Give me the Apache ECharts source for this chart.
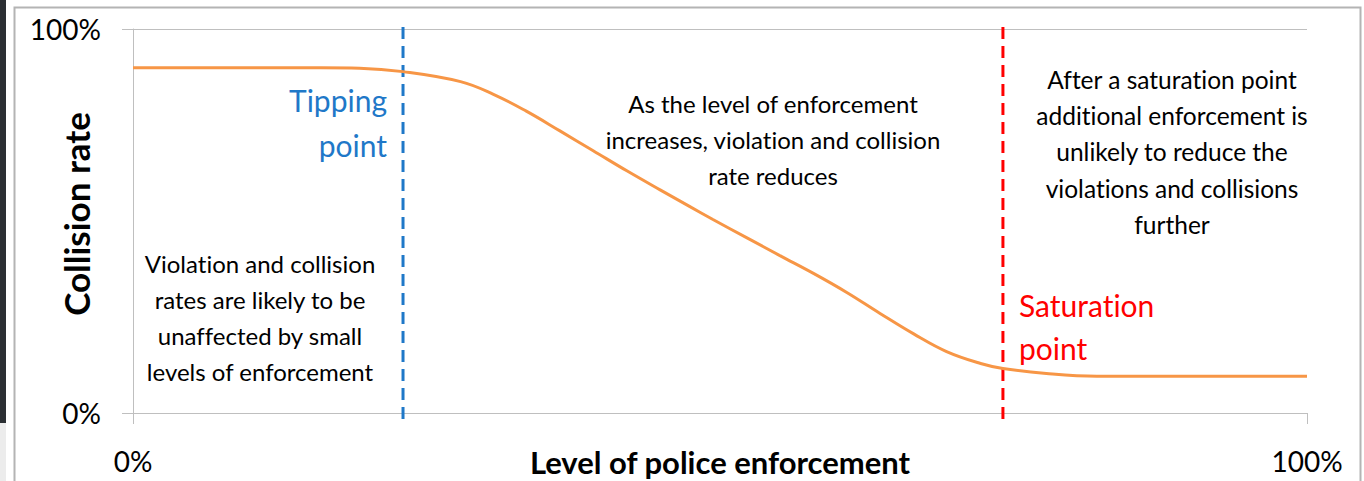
<!DOCTYPE html>
<html>
<head>
<meta charset="utf-8">
<script src="https://cdn.jsdelivr.net/npm/echarts@6/dist/echarts.min.js"></script>
<style>
html,body{margin:0;padding:0;background:#fff;}
#chart{width:1364px;height:481px;}
#chart text{font-variant-ligatures:none;font-feature-settings:"liga" 0,"clig" 0;}
</style>
</head>
<body>
<div id="chart"></div>
<script>
// Level of police enforcement (%)
var enforcement = [0, 10, 16, 19.3, 23.0, 27.9, 30.7, 33.5, 36.4, 39.2, 42.1, 44.9, 47.4, 49.4, 52.3, 55.1, 58.0, 60.8, 63.6, 66.5, 69.3, 72.2, 74.1, 77.8, 82.1, 90, 100];
// Collision rate (%)
var collisionRate = [89.9, 89.9, 89.9, 89.8, 88.9, 86.3, 83.0, 78.6, 73.4, 68.3, 63.0, 58.1, 53.8, 50.4, 45.6, 41.0, 36.3, 31.4, 26.0, 20.6, 16.0, 12.9, 11.6, 10.3, 9.6, 9.6, 9.6];
var tippingPoint = 23.0;
var saturationPoint = 74.1;
var axisTicks = [0, 100];

var chart = echarts.init(document.getElementById('chart'), null, { renderer: 'svg' });
var FONT = 'Lato';
var curve = enforcement.map(function (x, i) { return [x, collisionRate[i]]; });
var tipLine = [[tippingPoint, 0], [tippingPoint, 100]];
var satLine = [[saturationPoint, 0], [saturationPoint, 100]];

chart.setOption({
  animation: false,
  backgroundColor: '#ffffff',
  grid: [
    { left: 133, right: 57, top: 29, bottom: 68, containLabel: false, outerBoundsMode: 'none' },
    { left: 133, right: 57, top: 21, bottom: 62, containLabel: false, outerBoundsMode: 'none' }
  ],
  xAxis: [{
    type: 'value', gridIndex: 0, min: axisTicks[0], max: axisTicks[1], interval: 100,
    name: 'Level of police enforcement', nameLocation: 'middle', nameGap: 33, nameMoveOverlap: false,
    nameTextStyle: { fontFamily: FONT, fontSize: 31, fontWeight: 'bold', color: '#000' },
    axisLine: { show: true, lineStyle: { color: '#bfbfbf', width: 1 } },
    axisTick: { show: true, length: 11, lineStyle: { color: '#bfbfbf' } },
    axisLabel: { formatter: '{value}%', fontFamily: FONT, fontSize: 28, color: '#000', margin: 34 },
    splitLine: { show: false }
  }, {
    type: 'value', gridIndex: 1, min: 0, max: 100, show: false
  }],
  yAxis: [{
    type: 'value', gridIndex: 0, min: axisTicks[0], max: axisTicks[1], interval: 100,
    name: 'Collision rate', nameLocation: 'middle', nameGap: 40, nameMoveOverlap: false,
    nameTextStyle: { fontFamily: FONT, fontSize: 35, fontWeight: 'bold', color: '#000', padding: [0, 0, 0, 14] },
    axisLine: { show: true, lineStyle: { color: '#bfbfbf', width: 1 } },
    axisTick: { show: true, length: 11, lineStyle: { color: '#bfbfbf' } },
    axisLabel: { formatter: '{value}%', fontFamily: FONT, fontSize: 28, color: '#000', margin: 32 },
    splitLine: { show: true, lineStyle: { color: '#bfbfbf', width: 1 } }
  }, {
    type: 'value', gridIndex: 1, min: 0, max: 100, show: false
  }],
  series: [
    {
      type: 'line', xAxisIndex: 1, yAxisIndex: 1, data: tipLine, symbol: 'none', z: 2, silent: true,
      lineStyle: { color: '#1F78C8', type: [12, 7], width: 3 }
    },
    {
      type: 'line', xAxisIndex: 1, yAxisIndex: 1, data: satLine, symbol: 'none', z: 2, silent: true,
      lineStyle: { color: '#FF0000', type: [12, 7], width: 3 }
    },
    {
      type: 'line', xAxisIndex: 0, yAxisIndex: 0, data: curve, smooth: 0.4, symbol: 'none', clip: false,
      lineStyle: { color: '#F79646', width: 3 }, z: 3
    }
  ],
  graphic: [
    { type: 'rect', left: 0, top: 0, shape: { width: 6, height: 423 }, style: { fill: '#2b2f33' }, z: 10 },
    { type: 'rect', left: 0, top: 423, shape: { width: 6, height: 58 }, style: { fill: '#ececec' }, z: 10 },
    { type: 'rect', left: 12, top: 5, shape: { width: 1346, height: 500 }, style: { fill: 'none', stroke: '#b4b4b4', lineWidth: 2 }, z: 10 },
    { type: 'text', x: 260, y: 245, z: 20, style: { text: 'Violation and collision\nrates are likely to be\nunaffected by small\nlevels of enforcement', fontFamily: FONT, fontSize: 24, lineHeight: 36, fill: '#000', align: 'center', verticalAlign: 'top' } },
    { type: 'text', x: 773, y: 85, z: 20, style: { text: 'As the level of enforcement\nincreases, violation and collision\nrate reduces', fontFamily: FONT, fontSize: 24, lineHeight: 36, fill: '#000', align: 'center', verticalAlign: 'top' } },
    { type: 'text', x: 1172, y: 61, z: 20, style: { text: 'After a saturation point\nadditional enforcement is\nunlikely to reduce the\nviolations and collisions\nfurther', fontFamily: FONT, fontSize: 24.5, lineHeight: 36.3, fill: '#000', align: 'center', verticalAlign: 'top' } },
    { type: 'text', x: 387, y: 77, z: 20, style: { text: 'Tipping\npoint', fontFamily: FONT, fontSize: 30, lineHeight: 45, fill: '#1F78C8', align: 'right', verticalAlign: 'top' } },
    { type: 'text', x: 1019, y: 283, z: 20, style: { text: 'Saturation\npoint', fontFamily: FONT, fontSize: 30, lineHeight: 43, fill: '#FF0000', align: 'left', verticalAlign: 'top' } }
  ]
});
</script>
</body>
</html>
